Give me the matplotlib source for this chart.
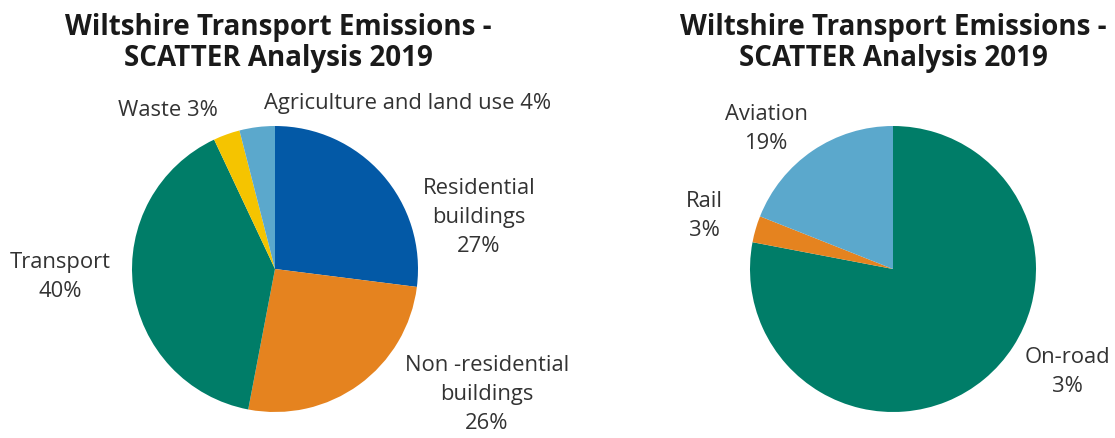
import matplotlib
matplotlib.use("Agg")
import matplotlib.pyplot as plt

plt.rcParams['font.family'] = ['Open Sans', 'DejaVu Sans']

# data
left_names = ["Residential buildings", "Non-residential buildings", "Transport", "Waste", "Agriculture and land use"]
left_values = [27, 26, 40, 3, 4]
left_colors = ["#0359A6", "#E5831F", "#007D68", "#F5C400", "#5BA8CC"]
left_labels = ["Residential\nbuildings\n27%", "Non -residential\nbuildings\n26%", "Transport\n40%", "Waste 3%",
               "Agriculture and land use 4%"]

right_names = ["On-road", "Rail", "Aviation"]
right_values = [78, 3, 19]
right_colors = ["#007D68", "#E5831F", "#5BA8CC"]
right_labels = ["On-road\n3%", "Rail\n3%", "Aviation\n19%"]

title = "Wiltshire Transport Emissions -\nSCATTER Analysis 2019"

W, H = 1115, 439
fig = plt.figure(figsize=(W / 100, H / 100), dpi=100)

def pie_axes(cx, cy, r):
    # cx, cy, r in pixels (y from top)
    return fig.add_axes([(cx - r) / W, (H - cy - r) / H, 2 * r / W, 2 * r / H])

def put(txt, x, y, size=15.8, color="#333333", ls=1.5, **kw):
    fig.text(x / W, 1 - y / H, txt, ha="center", va="center", fontsize=size,
             color=color, linespacing=ls, **kw)

axl = pie_axes(275, 270, 143)
axl.pie(left_values, colors=left_colors, startangle=90, counterclock=False, radius=1,
        wedgeprops=dict(linewidth=0))
axr = pie_axes(893, 270, 143)
axr.pie(right_values, colors=right_colors, startangle=90, counterclock=False, radius=1,
        wedgeprops=dict(linewidth=0))
for ax in (axl, axr):
    ax.set_xlim(-1, 1)
    ax.set_ylim(-1, 1)
    ax.axis("off")

put(title, 278, 43, size=20, fontweight="bold", color="#1a1a1a", ls=1.12)
put(title, 893, 43, size=20, fontweight="bold", color="#1a1a1a", ls=1.12)

label_pos_left = [(479, 217), (487, 395), (60, 277), (168, 110), (408, 104)]
for t, (x, y) in zip(left_labels, label_pos_left):
    put(t, x, y)

label_pos_right = [(1067, 372), (704, 216), (766, 129)]
for t, (x, y) in zip(right_labels, label_pos_right):
    put(t, x, y)

fig.savefig("out.png", dpi=100, facecolor="white")
